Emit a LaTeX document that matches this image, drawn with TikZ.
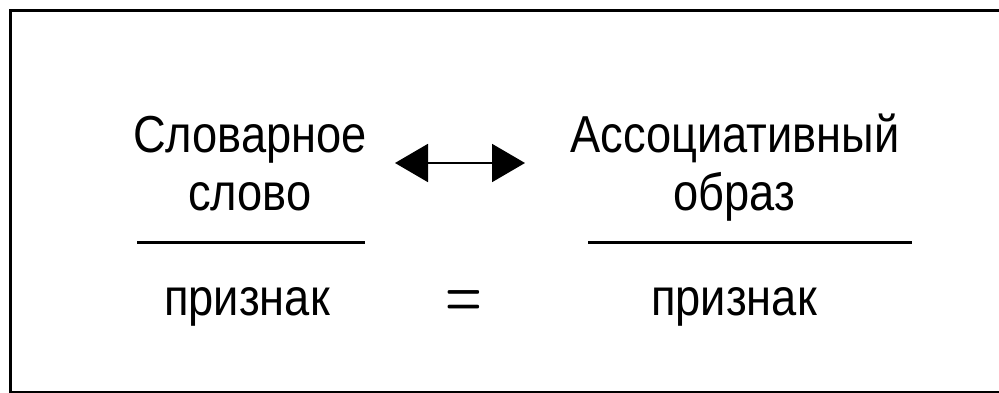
\documentclass[tikz,border=0pt]{standalone}
\usepackage{fontspec}
\setmainfont{Liberation Sans}[FakeStretch=0.87]
\newfontfamily\eqfont{Latin Modern Roman}
\usepackage{graphicx}
\usetikzlibrary{arrows.meta}
\begin{document}
\begin{tikzpicture}[x=1pt,y=-1pt,
  lbl/.style={anchor=base,inner sep=0pt,font=\fontsize{52}{57}\selectfont},
  rule/.style={line width=3pt},
  frame/.style={line width=3pt},
  link/.style={line width=2pt,{Triangle[length=33pt,width=38pt]}-{Triangle[length=33pt,width=38pt]}}]
\useasboundingbox (0,0) rectangle (999,393);
\clip (0,0) rectangle (999,393);
\draw[frame] (10.5,11) rectangle (1010,392.5);
% left fraction
\node[lbl] (l1) at (250,153) {Словарное};
\node[lbl] (l2) at (250,210) {слово};
\node[lbl] (l3) at (247,315) {признак};
\coordinate (la) at (137,242);
\coordinate (lb) at (365,242);
\draw[rule] (la) -- (lb);
% right fraction
\node[lbl] (r1) at (735,153) {Ассоциативный};
\node[lbl] (r2) at (734,210) {образ};
\node[lbl] (r3) at (734,315) {признак};
\coordinate (ra) at (588,242);
\coordinate (rb) at (912,242);
\draw[rule] (ra) -- (rb);
% link arrow
\coordinate (al) at (395,163);
\coordinate (ar) at (525,163);
\draw[link] (al) -- (ar);
% equals
\node[inner sep=0pt,font=\eqfont\bfseries\fontsize{42}{42}\selectfont] (eq) at (463.5,304) {\scalebox{1}[1.6]{=}};
\end{tikzpicture}
\end{document}
